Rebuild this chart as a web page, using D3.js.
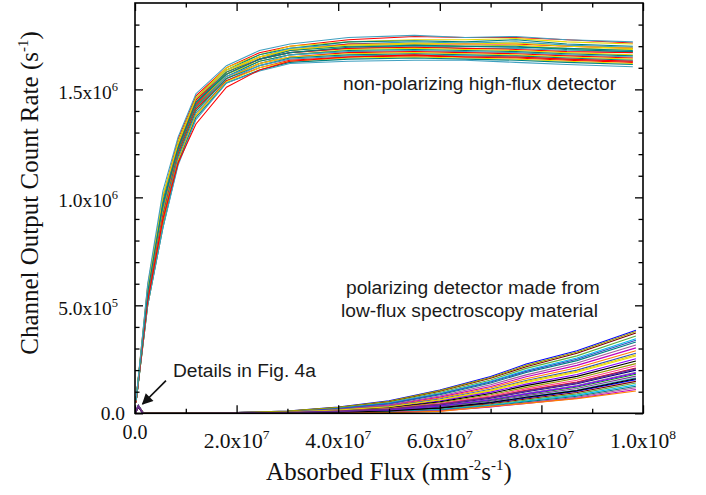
<!DOCTYPE html>
<html><head><meta charset="utf-8">
<script src="https://cdn.jsdelivr.net/npm/d3@7/dist/d3.min.js"></script>
<style>body{margin:0;background:#fff}svg{display:block}</style>
</head><body>
<svg id="c" width="706" height="495"></svg>
<script>
// ---------- data ----------
// tick values and labels
const xMajorTicks = [0, 2e7, 4e7, 6e7, 8e7, 1e8];
const xMinorTicks = [1e7, 3e7, 5e7, 7e7, 9e7];
const xTickLabels = [["0.0",""],["2.0x10","7"],["4.0x10","7"],["6.0x10","7"],["8.0x10","7"],["1.0x10","8"]];
const yMajorTicks = [0, 5e5, 1e6, 1.5e6];
const yMinorTicks = [1e5,2e5,3e5,4e5,6e5,7e5,8e5,9e5,1.1e6,1.2e6,1.3e6,1.4e6,1.6e6,1.7e6,1.8e6];
const yTickLabels = [["0.0",""],["5.0x10","5"],["1.0x10","6"],["1.5x10","6"]];

// non-polarizing high-flux detector: flux grid (x1e7 mm^-2 s^-1), counts (x1e5 s^-1)
const highFlux = [0.02, 0.25, 0.55, 0.85, 1.2, 1.8, 2.45, 3.05, 4.2, 5.5, 6.5, 7.5, 8.5, 9.8];
const highCounts = [
 [0.6,5.9,10.0,12.7,14.7,16.0,16.7,17.0,17.3,17.45,17.4,17.4,17.3,17.15],
 [0.6,5.8,9.9,12.6,14.6,16.0,16.6,17.0,17.2,17.3,17.3,17.35,17.2,17.1],
 [0.6,5.7,9.8,12.5,14.6,15.9,16.6,16.9,17.2,17.25,17.2,17.3,17.1,17.0],
 [0.6,5.7,9.7,12.4,14.5,15.9,16.5,16.9,17.1,17.2,17.15,17.2,17.05,16.95],
 [0.6,5.6,9.6,12.4,14.5,15.8,16.5,16.8,17.1,17.1,17.1,17.1,17.0,16.9],
 [0.6,5.6,9.5,12.3,14.4,15.8,16.5,16.8,17.0,17.1,17.0,17.05,16.9,16.85],
 [0.6,5.5,9.5,12.3,14.4,15.8,16.4,16.8,17.0,17.0,17.0,16.95,16.9,16.8],
 [0.5,5.5,9.4,12.2,14.3,15.7,16.4,16.7,16.9,17.0,16.9,16.9,16.8,16.75],
 [0.5,5.4,9.3,12.2,14.3,15.7,16.4,16.7,16.9,16.95,16.9,16.85,16.75,16.7],
 [0.5,5.4,9.3,12.1,14.2,15.7,16.3,16.6,16.85,16.9,16.85,16.8,16.7,16.6],
 [0.5,5.3,9.2,12.1,14.2,15.6,16.3,16.6,16.8,16.85,16.8,16.75,16.65,16.55],
 [0.5,5.3,9.1,12.0,14.1,15.6,16.2,16.6,16.75,16.8,16.75,16.7,16.6,16.5],
 [0.5,5.3,9.1,12.0,14.1,15.5,16.2,16.5,16.7,16.75,16.7,16.65,16.55,16.45],
 [0.5,5.2,9.0,11.9,14.0,15.5,16.2,16.5,16.65,16.7,16.65,16.6,16.5,16.4],
 [0.5,5.2,8.9,11.9,14.0,15.5,16.1,16.45,16.6,16.65,16.6,16.55,16.45,16.35],
 [0.5,5.1,8.9,11.8,13.9,15.4,16.1,16.4,16.55,16.6,16.55,16.5,16.4,16.3],
 [0.5,5.1,8.8,11.7,13.8,15.4,16.0,16.35,16.5,16.55,16.5,16.45,16.35,16.25],
 [0.5,5.0,8.7,11.7,13.8,15.35,16.0,16.3,16.45,16.5,16.45,16.4,16.3,16.2],
 [0.5,5.0,8.6,11.6,13.7,15.3,15.9,16.25,16.4,16.45,16.4,16.35,16.25,16.15],
 [0.5,5.0,8.6,11.5,13.6,15.3,15.85,16.2,16.3,16.35,16.35,16.25,16.15,16.05],
 [0.5,5.2,9.0,11.6,13.4,15.1,15.9,16.3,16.5,16.6,16.5,16.5,16.4,16.3],
 [0.6,5.8,10.1,12.5,14.6,15.9,16.5,16.85,17.05,17.15,17.1,17.15,17.0,16.9],
 [0.6,5.6,9.7,12.3,14.4,15.7,16.4,16.7,16.95,17.05,17.0,17.0,16.85,16.75],
 [0.6,6.0,10.3,12.8,14.8,16.1,16.8,17.1,17.4,17.5,17.4,17.45,17.3,17.2]
];

// polarizing detector (low-flux material): flux grid (x1e7), counts (x1e4 s^-1)
const lowFlux = [0, 0.065, 0.16, 1, 2, 3, 4, 5, 6, 7, 7.7, 8.7, 9.86];
const lowCounts = [
 [0,3.8,0.3,0.2,0.4,1.0,2.9,5.8,10.8,17.0,22.8,29.0,38.5],
 [0,3.6,0.3,0.2,0.4,0.9,2.7,5.4,10.2,16.2,21.6,27.8,37.2],
 [0,3.5,0.3,0.2,0.4,0.9,2.5,5.0,9.6,15.4,20.8,26.6,35.8],
 [0,3.4,0.2,0.2,0.3,0.8,2.3,4.7,9.1,14.8,19.9,25.6,34.5],
 [0,3.3,0.2,0.1,0.3,0.8,2.1,4.3,8.6,14.0,18.9,24.4,33.0],
 [0,3.2,0.2,0.1,0.3,0.7,1.9,3.9,8.0,13.2,17.8,23.3,31.6],
 [0,3.0,0.2,0.1,0.3,0.7,1.8,3.6,7.5,12.4,16.9,22.2,30.3],
 [0,3.2,0.2,0.1,0.2,0.6,1.7,3.4,7.1,11.8,16.0,21.1,29.0],
 [0,3.0,0.2,0.1,0.2,0.6,1.6,3.2,6.6,11.1,15.2,20.0,27.8],
 [0,2.9,0.2,0.1,0.2,0.5,1.4,2.9,6.1,10.4,14.3,19.0,26.5],
 [0,3.1,0.2,0.1,0.2,0.5,1.3,2.7,5.7,9.8,13.5,18.0,25.3],
 [0,2.8,0.2,0.1,0.2,0.5,1.2,2.5,5.3,9.2,12.8,17.1,24.2],
 [0,3.0,0.1,0.1,0.2,0.4,1.1,2.3,4.9,8.6,12.0,16.2,23.0],
 [0,2.9,0.1,0.1,0.2,0.4,1.0,2.1,4.5,8.0,11.3,15.3,22.0],
 [0,2.7,0.1,0.1,0.1,0.4,0.9,1.9,4.2,7.5,10.6,14.5,21.0],
 [0,3.1,0.1,0.1,0.1,0.3,0.8,1.7,3.8,7.0,10.0,13.7,20.0],
 [0,2.8,0.1,0.1,0.1,0.3,0.7,1.6,3.5,6.5,9.3,12.9,19.0],
 [0,3.0,0.1,0.0,0.1,0.3,0.6,1.4,3.2,6.0,8.7,12.2,18.1],
 [0,2.9,0.1,0.0,0.1,0.2,0.6,1.3,2.9,5.6,8.2,11.5,17.2],
 [0,2.7,0.1,0.0,0.1,0.2,0.5,1.1,2.6,5.1,7.6,10.8,16.4],
 [0,3.0,0.1,0.0,0.1,0.2,0.5,1.0,2.4,4.8,7.1,10.2,15.6],
 [0,2.8,0.1,0.0,0.1,0.2,0.4,0.9,2.2,4.4,6.6,9.6,14.8],
 [0,2.9,0.1,0.0,0.1,0.1,0.4,0.8,1.9,4.0,6.1,9.0,14.0],
 [0,2.7,0.1,0.0,0.0,0.1,0.3,0.7,1.7,3.7,5.7,8.4,13.2],
 [0,3.0,0.1,0.0,0.0,0.1,0.3,0.6,1.5,3.4,5.3,7.9,12.5],
 [0,2.8,0.1,0.0,0.0,0.1,0.2,0.5,1.3,3.1,4.9,7.4,11.8],
 [0,2.9,0.1,0.0,0.0,0.1,0.2,0.4,1.1,2.9,4.6,7.0,11.0],
 [0,2.8,0.1,0.0,0.0,0.1,0.2,0.3,0.9,3.2,4.6,6.8,10.3],
 [0,3.3,0.2,0.1,0.3,0.8,2.2,4.5,8.9,14.5,19.4,25.0,33.8],
 [0,3.0,0.2,0.1,0.2,0.6,1.5,3.0,6.3,10.8,14.8,19.5,27.1],
 [0,2.9,0.1,0.0,0.1,0.3,0.7,1.5,3.4,6.3,9.0,12.6,18.6],
 [0,2.8,0.1,0.0,0.1,0.2,0.5,1.1,2.5,5.0,7.4,10.5,16.0],
 [0,3.6,0.3,0.2,0.4,1.0,2.8,5.6,10.5,16.6,22.2,28.4,37.9],
 [0,3.4,0.1,0.0,0.1,0.3,0.9,1.9,4.1,7.3,10.3,14.1,20.6]
];

// annotations
const labelHigh = "non-polarizing high-flux detector";
const labelLow = ["polarizing detector made from", "low-flux spectroscopy material"];
const labelDetails = "Details in Fig. 4a";
const arrowFrom = [6.1e6, 1.51e5];
const arrowTo = [1.5e6, 4.3e4];

const palette = ["#000000","#ff0000","#00a000","#0000ff","#00b8f0","#c000c0","#e8d800","#9a9a00","#000080","#7f3f98","#800000","#008080","#ff8000","#8000ff","#ff4090","#808080","#40a0c0","#5fae3f","#a35a9a","#3050c0"];
const bumpColor = "#6a2c91";

// ---------- chart ----------
const svg = d3.select("#c");
const L = 135, R = 643, T = 3, B = 413.3;
const x = d3.scaleLinear().domain([0, 1e8]).range([L, R]);
const y = d3.scaleLinear().domain([0, 1.9e6]).range([B, T]);

const defs = svg.append("defs");
defs.append("clipPath").attr("id","clip")
  .append("rect").attr("x",L).attr("y",T).attr("width",R-L).attr("height",B-T);

const plot = svg.append("g").attr("clip-path","url(#clip)");

const lineHigh = d3.line().x((d,i)=>x(highFlux[i]*1e7)).y(d=>y(d*1e5));
const lineLow = d3.line().x((d,i)=>x(lowFlux[i]*1e7)).y(d=>y(d*1e4));

plot.selectAll("path.low").data(lowCounts).join("path").attr("class","low")
  .attr("d", lineLow).attr("fill","none")
  .attr("stroke",(d,i)=> i === lowCounts.length-1 ? bumpColor : palette[(i*7+3)%palette.length])
  .attr("stroke-width",(d,i)=> i === lowCounts.length-1 ? 1.6 : 1.1);

plot.selectAll("path.high").data(highCounts).join("path").attr("class","high")
  .attr("d", lineHigh).attr("fill","none")
  .attr("stroke",(d,i)=>palette[(i*5+1)%palette.length]).attr("stroke-width",1.1);

// axes (inward ticks on all four sides)
function ticks(axisFn, scale, vals, size, transform){
  const g = svg.append("g").attr("transform", transform)
    .call(axisFn(scale).tickValues(vals).tickSize(-size).tickFormat(""));
  g.select(".domain").remove();
  g.selectAll("line").attr("stroke","#000").attr("stroke-width",1.3);
}
ticks(d3.axisBottom, x, xMajorTicks, 8, `translate(0,${B})`);
ticks(d3.axisBottom, x, xMinorTicks, 4.5, `translate(0,${B})`);
ticks(d3.axisTop, x, xMajorTicks, 8, `translate(0,${T})`);
ticks(d3.axisTop, x, xMinorTicks, 4.5, `translate(0,${T})`);
ticks(d3.axisLeft, y, yMajorTicks, 8, `translate(${L},0)`);
ticks(d3.axisLeft, y, yMinorTicks, 4.5, `translate(${L},0)`);
ticks(d3.axisRight, y, yMajorTicks, 8, `translate(${R},0)`);
ticks(d3.axisRight, y, yMinorTicks, 4.5, `translate(${R},0)`);

svg.append("rect").attr("x",L).attr("y",T).attr("width",R-L).attr("height",B-T)
  .attr("fill","none").attr("stroke","#000").attr("stroke-width",1.6);

const serif = "'Liberation Serif','Times New Roman',serif";
const sans = "'Liberation Sans',Arial,sans-serif";

// x tick labels
xMajorTicks.forEach((v,i)=>{
  const [main, sup] = xTickLabels[i];
  const t = svg.append("text").attr("font-family",serif).attr("font-size",sup ? 21.5 : 20).attr("fill","#111")
    .attr("text-anchor","middle")
    .attr("x", x(v))
    .attr("y", B + (sup ? 34.5 : 25.8));
  t.append("tspan").text(main);
  if (sup) t.append("tspan").attr("font-size",13.5).attr("dy",-9).text(sup);
});
// y tick labels
yMajorTicks.forEach((v,i)=>{
  const [main, sup] = yTickLabels[i];
  const t = svg.append("text").attr("font-family",serif).attr("font-size",19.5).attr("fill","#111")
    .attr("text-anchor","end")
    .attr("x", sup ? 118 : 125)
    .attr("y", y(v) + (sup ? 9.3 : 6.7));
  t.append("tspan").text(main);
  if (sup) t.append("tspan").attr("font-size",12.5).attr("dy",-8).text(sup);
});

// axis titles
const xt = svg.append("text").attr("font-family",serif).attr("font-size",25).attr("fill","#111")
  .attr("text-anchor","middle").attr("x",(L+R)/2).attr("y",480);
xt.append("tspan").text("Absorbed Flux (mm");
xt.append("tspan").attr("font-size",15).attr("dy",-10).text("-2");
xt.append("tspan").attr("dy",10).text("s");
xt.append("tspan").attr("font-size",15).attr("dy",-10).text("-1");
xt.append("tspan").attr("dy",10).text(")");

const yt = svg.append("text").attr("font-family",serif).attr("font-size",25).attr("fill","#111")
  .attr("text-anchor","middle").attr("transform","translate(38,193) rotate(-90)");
yt.append("tspan").text("Channel Output Count Rate (s");
yt.append("tspan").attr("font-size",15).attr("dy",-10).text("-1");
yt.append("tspan").attr("dy",10).text(")");

// annotations
const annot = (tx, ax, ay) => svg.append("text").attr("font-family",sans).attr("font-size",19.2)
  .attr("fill","#1a1a1a").attr("x",ax).attr("y",ay).text(tx);
annot(labelHigh, 343, 90);
annot(labelLow[0], 346, 294);
annot(labelLow[1], 341, 317);
annot(labelDetails, 173, 377);

defs.append("marker").attr("id","ah").attr("viewBox","0 0 10 10")
  .attr("refX",9).attr("refY",5).attr("markerWidth",12).attr("markerHeight",11)
  .attr("markerUnits","userSpaceOnUse").attr("orient","auto")
  .append("path").attr("d","M0,0 L10,5 L0,10 z").attr("fill","#111");
svg.append("line")
  .attr("x1",x(arrowFrom[0])).attr("y1",y(arrowFrom[1]))
  .attr("x2",x(arrowTo[0])).attr("y2",y(arrowTo[1]))
  .attr("stroke","#111").attr("stroke-width",1.7).attr("marker-end","url(#ah)");
</script>
</body></html>
